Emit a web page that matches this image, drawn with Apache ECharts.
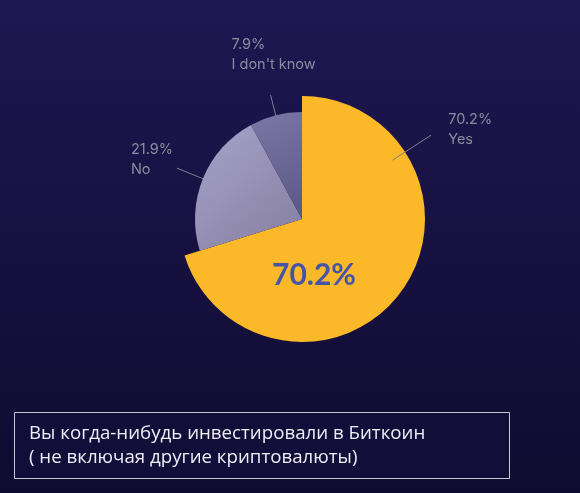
<!DOCTYPE html>
<html>
<head>
<meta charset="utf-8">
<script src="https://cdn.jsdelivr.net/npm/echarts@6/dist/echarts.min.js"></script>
<style>
  html, body { margin: 0; padding: 0; background: #160f3e; }
  #chart { width: 580px; height: 493px; }
</style>
</head>
<body>
<div id="chart"></div>
<script>
// survey answers, percent
const categories = ['Yes', 'No', "I don't know"];
const shares = [70.2, 21.9, 7.9];
const highlight = '70.2%';
const titleLines = ['Вы когда-нибудь инвестировали в Биткоин', '( не включая другие криптовалюты)'];

const colors = [
  '#fbb829',
  { type: 'linear', x: 0, y: 0, x2: 1, y2: 1, colorStops: [{ offset: 0, color: '#a7a2ca' }, { offset: 1, color: '#85809f' }] },
  { type: 'linear', x: 0, y: 0, x2: 1, y2: 1, colorStops: [{ offset: 0, color: '#7b78a8' }, { offset: 1, color: '#5a5785' }] }
];

const cx = 302, cy = 219;
// label line geometry per slice: [angle override (deg, clockwise from top) or null, r1, r2]
const lineGeom = [[57, 108, 154], [null, 98, 135], [null, 98, 128]];

function midAngle(i) {
  const total = shares.reduce((a, b) => a + b, 0);
  let acc = 0;
  for (let k = 0; k < i; k++) acc += shares[k];
  return (acc + shares[i] / 2) / total * 360;
}
function polar(deg, r) {
  const a = deg * Math.PI / 180;
  return [cx + r * Math.sin(a), cy - r * Math.cos(a)];
}

// outer ring only draws the big slice, inner ring draws the rest plus all labels
function buildData(showIdx, withLabels) {
  return categories.map((name, i) => {
    const on = showIdx.indexOf(i) >= 0;
    return {
      name: name,
      value: shares[i],
      itemStyle: { color: on ? colors[i] : 'rgba(0,0,0,0)' },
      label: { show: withLabels },
      labelLine: { show: withLabels }
    };
  });
}

const labelStyle = {
  color: '#8d8c9c',
  fontFamily: 'Inter',
  fontSize: 14.5,
  lineHeight: 20,
  formatter: p => p.value.toFixed(1) + '%\n' + p.name
};

function layoutLabel(params) {
  const i = params.dataIndex;
  const g = lineGeom[i];
  const ang = g[0] !== null ? g[0] : midAngle(i);
  const p1 = polar(ang, g[1]);
  const p2 = polar(ang, g[2]);
  const w = params.labelRect.width;
  const h = params.labelRect.height;
  let x, y;
  if (i === 0) { x = p2[0] + 17; y = p2[1] - 5 - h / 2; }
  else if (i === 1) { x = p2[0] - 4 - w; y = p2[1] - 8 - h / 2; }
  else { x = p2[0] - 39; y = p2[1] - 20 - h; }
  return {
    x: x, y: y, align: 'left', verticalAlign: 'top',
    labelLinePoints: [p1, p2, p2]
  };
}

const chart = echarts.init(document.getElementById('chart'), null, { renderer: 'canvas' });
chart.setOption({
  backgroundColor: {
    type: 'linear', x: 0, y: 0, x2: 0, y2: 1,
    colorStops: [{ offset: 0, color: '#1f1752' }, { offset: 1, color: '#0f0b30' }]
  },
  animation: false,
  title: {
    text: titleLines.join('\n'),
    left: 29,
    top: 422,
    padding: 0,
    textStyle: { color: '#eeeef4', fontFamily: 'Open Sans', fontWeight: 'normal', fontSize: 18.7, lineHeight: 24 }
  },
  graphic: [
    {
      type: 'rect', left: 14, top: 412, z: -1,
      shape: { width: 495, height: 66 },
      style: { fill: '#130d3a', stroke: '#c9c9d3', lineWidth: 1 }
    },
    {
      type: 'text', z: 100,
      x: cx + 12, y: cy + 56,
      style: {
        text: highlight, fill: '#4654a8', font: 'bold 30px Lato',
        textAlign: 'center', textVerticalAlign: 'middle'
      }
    }
  ],
  series: [
    {
      type: 'pie', silent: true, z: 2,
      center: [cx, cy], radius: [0, 123],
      startAngle: 90, clockwise: true,
      data: buildData([0], false)
    },
    {
      type: 'pie', silent: true, z: 3,
      center: [cx, cy], radius: [0, 107],
      startAngle: 90, clockwise: true,
      label: labelStyle,
      labelLine: { lineStyle: { color: '#80808c', width: 1 } },
      labelLayout: layoutLabel,
      data: buildData([1, 2], true)
    }
  ]
});
</script>
</body>
</html>
